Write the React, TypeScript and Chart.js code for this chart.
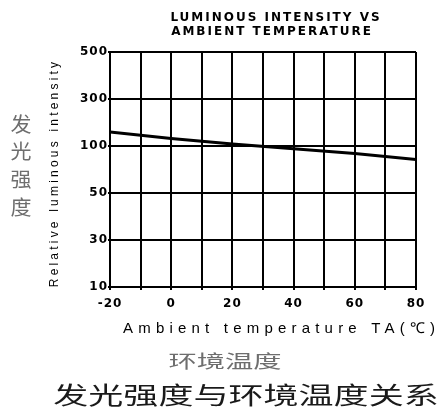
import React, { useEffect, useRef } from "react";
import { Chart, registerables } from "chart.js";

Chart.register(...registerables);

const temperatures = [-20, 0, 20, 40, 60, 80];
const relativeIntensity = [139, 119, 105, 96, 89.5, 82];
const yTickValues = [10, 30, 50, 100, 300, 500];
const xMin = -20;
const xMax = 80;

const titleLines = ["LUMINOUS INTENSITY VS", "AMBIENT TEMPERATURE"];
const yTitle = "Relative luminous intensity";
const xTitle = "Ambient temperature TA(℃)";
const yTitleCn = ["发", "光", "强", "度"];
const xTitleCn = "环境温度";
const footerCn = "发光强度与环境温度关系";

// maps an intensity value onto the chart's equally spaced tick ladder
function toLadder(v: number): number {
  for (let i = 0; i < yTickValues.length - 1; i++) {
    const a = yTickValues[i];
    const b = yTickValues[i + 1];
    if (v >= a && v <= b) {
      return i + Math.log(v / a) / Math.log(b / a);
    }
  }
  return v < yTickValues[0] ? 0 : yTickValues.length - 1;
}

function stretchedText(ctx: CanvasRenderingContext2D, text: string, x: number, y: number, sx: number) {
  ctx.save();
  ctx.translate(x, y);
  ctx.scale(sx, 1);
  ctx.fillText(text, 0, 0);
  ctx.restore();
}

const textPlugin = {
  id: "extraTexts",
  beforeDraw(chart: any) {
    (chart.ctx as any).letterSpacing = "1px";
  },
  afterDraw(chart: any) {
    const ctx = chart.ctx as CanvasRenderingContext2D;
    ctx.save();
    // title
    ctx.fillStyle = "#000";
    ctx.textAlign = "center";
    ctx.textBaseline = "middle";
    ctx.font = "bold 12px 'DejaVu Sans'";
    (ctx as any).letterSpacing = "2px";
    ctx.fillText(titleLines[0], 276, 18);
    ctx.fillText(titleLines[1], 272, 32);
    // y title
    ctx.save();
    ctx.translate(55, 173);
    ctx.rotate(-Math.PI / 2);
    ctx.font = "12px 'Liberation Sans'";
    (ctx as any).letterSpacing = "3.2px";
    ctx.fillText(yTitle, 0, 0);
    ctx.restore();
    // x title
    ctx.font = "15px 'Liberation Sans'";
    (ctx as any).letterSpacing = "5.2px";
    ctx.textAlign = "left";
    ctx.fillText(xTitle, 123, 329);
    // chinese labels
    (ctx as any).letterSpacing = "0px";
    ctx.textAlign = "center";
    ctx.fillStyle = "#6e6e6e";
    ctx.font = "20px 'Noto Sans CJK SC'";
    yTitleCn.forEach((ch, i) => stretchedText(ctx, ch, 21, 124 + i * 27.7, 1.05));
    ctx.font = "18px 'Noto Sans CJK SC'";
    stretchedText(ctx, xTitleCn, 225, 361, 1.57);
    ctx.fillStyle = "#1a1a1a";
    ctx.font = "24px 'Noto Sans CJK SC'";
    stretchedText(ctx, footerCn, 246, 395, 1.46);
    ctx.restore();
  },
};

export default function App() {
  const ref = useRef<HTMLCanvasElement>(null);
  useEffect(() => {
    if (!ref.current) return;
    const chart = new Chart(ref.current, {
      type: "line",
      data: {
        datasets: [
          {
            data: temperatures.map((t, i) => ({ x: t, y: toLadder(relativeIntensity[i]) })),
            borderColor: "#000",
            borderWidth: 3,
            pointRadius: 0,
            tension: 0,
          },
        ],
      },
      options: {
        animation: false,
        responsive: false,
        devicePixelRatio: 1,
        layout: { padding: { left: 0, top: 52, right: 27, bottom: 0 } },
        plugins: { legend: { display: false }, tooltip: { enabled: false }, title: { display: false } },
        scales: {
          x: {
            type: "linear",
            min: xMin,
            max: xMax,
            afterFit: (s: any) => {
              s.height = 122;
            },
            ticks: {
              stepSize: 10,
              autoSkip: false,
              maxRotation: 0,
              color: "#000",
              padding: 7,
              font: { family: "'DejaVu Sans'", size: 12, weight: "bold" },
              callback: (v: any) => (Number(v) % 20 === 0 ? String(v) : ""),
            },
            grid: { color: "#000", lineWidth: 2, tickLength: 3 },
            border: { color: "#000", width: 2 },
          },
          y: {
            type: "linear",
            min: 0,
            max: yTickValues.length - 1,
            afterFit: (s: any) => {
              s.width = 110;
            },
            ticks: {
              stepSize: 1,
              autoSkip: false,
              color: "#000",
              padding: 0,
              font: { family: "'DejaVu Sans'", size: 12, weight: "bold" },
              callback: (v: any) => String(yTickValues[Number(v)] ?? ""),
            },
            grid: { color: "#000", lineWidth: 2, tickLength: 2 },
            border: { color: "#000", width: 2 },
          },
        },
      },
      plugins: [textPlugin],
    });
    return () => chart.destroy();
  }, []);
  return (
    <div style={{ position: "fixed", left: 0, top: 0, width: 443, height: 409, background: "#fff" }}>
      <canvas ref={ref} width={443} height={409} style={{ width: 443, height: 409 }} />
    </div>
  );
}
